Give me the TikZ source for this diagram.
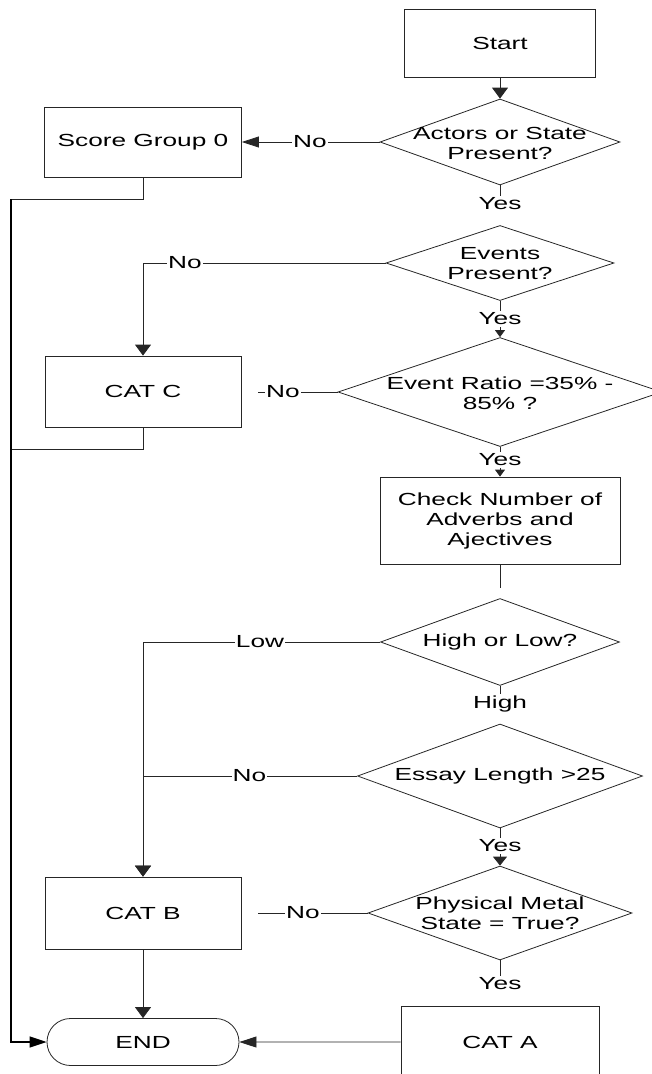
\documentclass[tikz,border=0pt]{standalone}
\usepackage{fontspec}
\setmainfont{Liberation Sans}[FakeStretch=1.5]
\usetikzlibrary{shapes.geometric,shapes.misc,arrows.meta}

\begin{document}
\begin{tikzpicture}[x=1pt,y=-1pt,
  every node/.style={font=\fontsize{17.5}{20}\selectfont, text=black},
  line/.style={draw=black!85, line width=0.8pt},
  rail/.style={draw=black, line width=1.4pt},
  box/.style 2 args={rectangle, draw=black!85, line width=0.8pt,
    minimum width=#1, minimum height=#2, inner sep=0pt, align=center},
  dec/.style 2 args={diamond, aspect=1, draw=black!85, line width=0.8pt,
    minimum width=#1, minimum height=#2, inner sep=0pt},
  endbox/.style={rounded rectangle, draw=black!85, line width=0.8pt,
    minimum width=192pt, minimum height=47pt, inner sep=0pt},
  txt/.style={align=center, inner sep=0pt},
  ylab/.style={inner sep=2pt},
  lab/.style={fill=white, inner sep=1pt},
  varr/.style={-{Triangle[length=11pt,width=16pt]}},
  harr/.style={-{Triangle[length=17pt,width=11pt]}},
  sarr/.style={-{Triangle[length=7pt,width=10pt]}},
  marr/.style={-{Triangle[length=9pt,width=14pt]}}
]
\useasboundingbox (0,0) rectangle (652,1074);
\clip (0,0) rectangle (652,1074);

% process boxes and decisions
\node[box={191}{68}] (start) at (500,43) {Start};
\node[dec={240}{86}] (d1) at (500,142) {};
\node[txt] (d1t) at (500,143) {Actors or State\\Present?};
\node[box={197}{70}] (score) at (143,142) {Score Group 0};
\node[dec={228}{75}] (d2) at (500,263) {};
\node[txt] (d2t) at (500,264) {Events\\Present?};
\node[box={196}{71}] (catc) at (143,391.5) {CAT C};
\node[dec={324}{109}] (d3) at (500,392) {};
\node[txt] (d3t) at (500,393) {Event Ratio =35\% -\\85\% ?};
\node[box={240}{87}] (check) at (500,520.5) {Check Number of\\Adverbs and\\Ajectives};
\node[dec={239}{87}] (d4) at (500,642) {};
\node[txt] (d4t) at (500,642) {High or Low?};
\node[dec={285}{104}] (d5) at (500,776) {};
\node[txt] (d5t) at (500,776) {Essay Length >25};
\node[box={196}{72}] (catb) at (143,913) {CAT B};
\node[dec={264}{94}] (d6) at (500,913) {};
\node[txt] (d6t) at (500,913) {Physical Metal\\State = True?};
\node[endbox] (finish) at (143,1042) {END};
\node[box={198}{72}] (cata) at (500,1042) {CAT A};

% branch labels below decisions
\node[ylab] (y1) at (500,204) {Yes};
\node[ylab] (y2) at (500,319) {Yes};
\node[ylab] (y3) at (500,460) {Yes};
\node[ylab] (hi) at (500,704) {High};
\node[ylab] (y5) at (500,846) {Yes};
\node[ylab] (y6) at (500,984) {Yes};

% free ends
\coordinate (c3) at (258,392);
\coordinate (c4) at (500,588);
\coordinate (c6) at (258,913);
\coordinate (r1) at (11,199);
\coordinate (r2) at (11,449);

% connectors
\draw[line,varr] (start) -- (d1);
\draw[line,harr] (d1.west) -- (score.east);
\draw[line] (d1.south) -- (y1.north);
\draw[line,varr] (d2.west) -| (catc.north);
\draw[line] (d2.south) -- (y2.north);
\draw[line,sarr] (y2.south) -- (d3.north);
\draw[line] (d3.west) -- (c3);
\draw[line] (d3.south) -- (y3.north);
\draw[line,sarr] (y3.south) -- (check.north);
\draw[line] (check.south) -- (c4);
\draw[line,varr] (d4.west) -| (catb.north);
\draw[line,varr] (d5.west) -| (catb.north);
\draw[line] (d4.south) -- (hi.north);
\draw[line] (d5.south) -- (y5.north);
\draw[line,marr] (y5.south) -- (d6.north);
\draw[line] (d6.west) -- (c6);
\draw[line] (d6.south) -- (y6.north);
\draw[line,varr] (catb) -- (finish);
\draw[line,harr] (cata) -- (finish);
\draw[line] (score.south) |- (r1);
\draw[line] (catc.south) |- (r2);
\draw[rail,harr] (r1) |- (finish.west);

% labels sitting on the horizontal connectors
\node[lab] (n1) at (310,142) {No};
\node[lab] (n2) at (185,263) {No};
\node[lab] (n3) at (283,392) {No};
\node[lab] (lo) at (260,642) {Low};
\node[lab] (n5) at (249.5,776) {No};
\node[lab] (n6) at (303,913) {No};
\end{tikzpicture}
\end{document}
